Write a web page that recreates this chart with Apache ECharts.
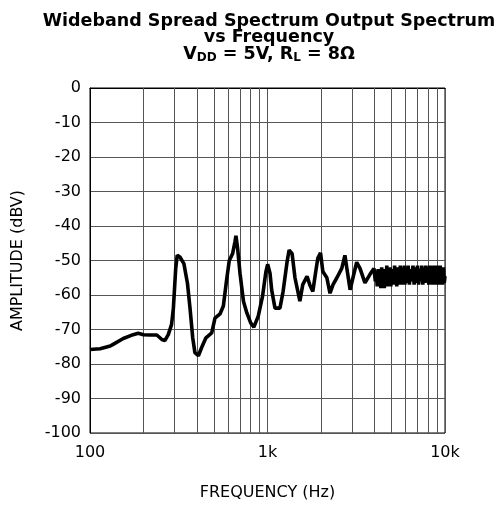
<!DOCTYPE html>
<html>
<head>
<meta charset="utf-8">
<script src="https://cdn.jsdelivr.net/npm/echarts@6/dist/echarts.min.js"></script>
<style>
  html, body { margin: 0; padding: 0; background: #fff; }
  #chart { width: 500px; height: 506px; }
</style>
</head>
<body>
<div id="chart"></div>
<script>
// frequency (Hz) and amplitude (dBV)
const freq = [
  100, 114, 130, 135, 154, 175, 187, 200, 218, 238, 254, 264, 276, 288, 295, 304, 310,
  321, 338, 354, 366, 379, 390, 408, 425, 450, 485, 506, 540, 564, 588, 609, 636, 656,
  664, 679, 700, 732, 765, 804, 838, 887, 938, 980, 1002, 1033, 1056, 1102, 1175, 1224,
  1290, 1324, 1376, 1428, 1522, 1580, 1670, 1730, 1800, 1870, 1920, 1990, 2050, 2160,
  2250, 2340, 2460, 2620, 2730, 2800, 2920, 3030, 3180, 3320, 3540, 3780, 3980,
  4050, 4100, 4150, 4200, 4250, 4300, 4350, 4400, 4450, 4500, 4550, 4600, 4650, 4700,
  4750, 4800, 4850, 4900, 4950, 5000, 5050, 5100, 5150, 5200, 5250, 5300, 5350, 5400,
  5450, 5500, 5550, 5600, 5650, 5700, 5750, 5800, 5850, 5900, 5950, 6000, 6100, 6200,
  6300, 6400, 6500, 6600, 6700, 6800, 6900, 7000, 7100, 7200, 7300, 7400, 7500, 7600,
  7700, 7800, 7900, 8000, 8100, 8200, 8300, 8400, 8500, 8600, 8700, 8800, 8900, 9000,
  9100, 9200, 9300, 9400, 9500, 9600, 9700, 9800, 9900, 10000
]
const amplitude = [
  -75.8, -75.6, -74.8, -74.3, -72.6, -71.5, -71.1, -71.5, -71.6, -71.6, -72.9, -73.2, -71.5, -68.6, -63.8, -52.3, -48.5,
  -49.0, -50.9, -56.6, -63.8, -72.4, -76.7, -77.6, -75.3, -72.4, -71.0, -66.7, -65.5, -63.2, -55.7, -50.0, -48.0, -44.5,
  -42.8, -46.6, -53.7, -61.8, -65.2, -68.1, -69.3, -66.1, -60.3, -53.2, -51.1, -53.7, -58.6, -63.8, -63.8, -59.0,
  -50.3, -47.0, -48.0, -55.0, -61.8, -57.0, -54.6, -57.0, -59.0, -53.2, -49.4, -47.8, -53.2, -55.0,
  -59.5, -57.0, -55.0, -52.3, -48.5, -52.3, -58.5, -55.0, -50.5, -52.3, -56.5, -54.0, -52.3,
  -56.0, -53.0, -57.5, -52.5, -56.5, -53.5, -58.0, -52.0, -57.0, -53.0, -58.0, -52.5, -56.5, -51.5,
  -57.5, -53.0, -56.0, -52.0, -57.5, -53.0, -56.5, -52.5, -57.0, -51.5, -56.0, -53.0, -57.5, -52.0,
  -56.5, -52.5, -57.0, -51.5, -56.0, -53.0, -57.0, -52.0, -56.5, -51.5, -57.0, -52.5, -56.5, -51.5,
  -57.0, -52.5, -56.0, -51.5, -57.0, -52.0, -56.5, -51.5, -57.0, -52.5, -56.0, -51.5, -57.0, -52.0,
  -56.5, -51.5, -56.0, -52.5, -57.0, -51.5, -56.5, -52.0, -57.0, -51.5, -56.0, -52.5, -57.0, -51.5,
  -56.5, -52.0, -57.0, -51.5, -56.0, -52.5, -57.0, -52.0, -56.5, -54.5
]
const minorFreqs = [200, 300, 400, 500, 600, 700, 800, 900, 2000, 3000, 4000, 5000, 6000, 7000, 8000, 9000]

const chart = echarts.init(document.getElementById('chart'))
const font = 'DejaVu Sans, Liberation Sans, sans-serif'

chart.setOption({
  animation: false,
  title: {
    text: 'Wideband Spread Spectrum Output Spectrum\nvs Frequency\n{n|V}{s|DD}{n| = 5V, R}{s|L}{n| = 8Ω}',
    left: 264,
    top: 8,
    textAlign: 'center',
    textStyle: {
      fontFamily: font,
      fontSize: 17.5,
      fontWeight: 'bold',
      color: '#000',
      lineHeight: 16.5,
      rich: {
        n: { fontFamily: font, fontSize: 17.5, fontWeight: 'bold', color: '#000', lineHeight: 16.5 },
        s: { fontFamily: font, fontSize: 12, fontWeight: 'bold', color: '#000', lineHeight: 16.5, padding: [7, 0, 0, 0] }
      }
    }
  },
  grid: { left: 90, right: 55, top: 88, bottom: 70, show: true, borderColor: '#000', borderWidth: 1 },
  xAxis: {
    type: 'log',
    logBase: 10,
    min: 100,
    max: 10000,
    name: 'FREQUENCY (Hz)',
    nameLocation: 'middle',
    nameGap: 52,
    nameTextStyle: { fontFamily: font, fontSize: 16, color: '#000' },
    axisLine: { lineStyle: { color: '#000' } },
    axisTick: { show: false },
    axisLabel: {
      fontFamily: font, fontSize: 16, color: '#000', margin: 12,
      formatter: (v) => (v >= 1000 ? v / 1000 + 'k' : String(v))
    },
    splitLine: { show: true, lineStyle: { color: '#555', width: 1 } }
  },
  yAxis: {
    type: 'value',
    min: -100,
    max: 0,
    interval: 10,
    name: 'AMPLITUDE (dBV)',
    nameLocation: 'middle',
    nameGap: 64,
    nameTextStyle: { fontFamily: font, fontSize: 16, color: '#000' },
    axisLine: { show: true, lineStyle: { color: '#000' } },
    axisTick: { show: false },
    axisLabel: { fontFamily: font, fontSize: 16, color: '#000', margin: 9 },
    splitLine: { show: true, lineStyle: { color: '#555', width: 1 } }
  },
  series: [
    {
      type: 'line',
      data: freq.map((f, i) => [f, amplitude[i]]),
      showSymbol: false,
      lineStyle: { color: '#000', width: 3.6 },
      z: 3,
      markLine: {
        silent: true,
        symbol: 'none',
        label: { show: false },
        lineStyle: { color: '#555', width: 1, type: 'solid' },
        data: minorFreqs.map((f) => ({ xAxis: f })),
        z: 1
      }
    }
  ]
})
</script>
</body>
</html>
